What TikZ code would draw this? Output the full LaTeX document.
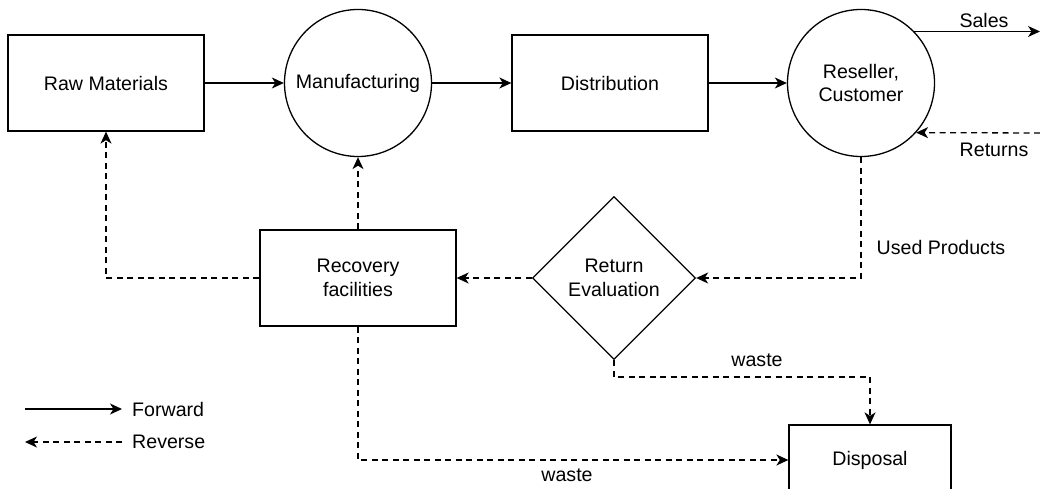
\documentclass[tikz,border=0pt]{standalone}
\usepackage{fontspec}
\setmainfont{Liberation Sans}
\usetikzlibrary{arrows.meta,shapes.geometric}
\begin{document}
\begin{tikzpicture}[x=1pt,y=-1pt,
  every node/.style={font=\fontsize{19.6}{23.5}\selectfont},
  box/.style={draw,line width=1.3pt,minimum width=196pt,minimum height=96pt,inner sep=0pt,align=center},
  circ/.style={draw,line width=1.3pt,circle,minimum size=147pt,inner sep=0pt,align=center},
  dia/.style={draw,line width=1.3pt,diamond,minimum width=163pt,minimum height=163pt,inner sep=0pt,align=center},
  fwd/.style={line width=1.3pt,-{Stealth[length=12pt,width=11pt,inset=3.5pt]}},
  rev/.style={line width=1.3pt,dash pattern=on 6pt off 4.5pt,-{Stealth[length=12pt,width=11pt,inset=3.5pt]}},
  lbl/.style={inner sep=0pt}]
\useasboundingbox (0,0) rectangle (1040,489);
\node[box] (raw) at (106,83) {Raw Materials};
\node[circ] (man) at (358,83) {Manufacturing};
\node[box] (dist) at (610,83) {Distribution};
\node[circ] (res) at (861,83) {Reseller,\\Customer};
\node[dia] (ret) at (614,278) {Return\\Evaluation};
\node[box] (rec) at (358,278) {Recovery\\facilities};
\node[draw,line width=1.3pt,minimum width=162pt,minimum height=70pt,inner sep=0pt] (disp) at (870,460) {Disposal};
\coordinate (salesEnd) at (1040,32);
\coordinate (retStart) at (1040,133);
\coordinate (w1) at (614,377);
\coordinate (l1) at (25,409);
\coordinate (l2) at (122,409);
\coordinate (l3) at (122,442);
\coordinate (l4) at (25,442);
\draw[fwd] (raw) -- (man);
\draw[fwd] (man) -- (dist);
\draw[fwd] (dist) -- (res);
\draw[fwd] (res.44) -- (res.44 -| salesEnd);
\draw[rev] (retStart) -- (res.-42.5);
\draw[rev] (res.south) |- (ret.east);
\draw[rev] (ret.west) -- (rec.east);
\draw[rev] (rec.west) -| (raw.south);
\draw[rev] (rec.north) -- (man.south);
\draw[rev] (rec.south) |- (disp.west);
\draw[rev] (ret.south) -- (w1) -| (disp.north);
\node[lbl] (tSales) at (984,20) {Sales};
\node[lbl] (tRet) at (994,150) {Returns};
\node[lbl] (tUsed) at (941,247) {Used Products};
\node[lbl] (tW1) at (757,360) {waste};
\node[lbl] (tW2) at (567,475) {waste};
\draw[fwd] (l1) -- (l2);
\draw[rev] (l3) -- (l4);
\node[lbl,anchor=west] (tF) at (132,409) {Forward};
\node[lbl,anchor=west] (tR) at (132,442) {Reverse};
\end{tikzpicture}
\end{document}
